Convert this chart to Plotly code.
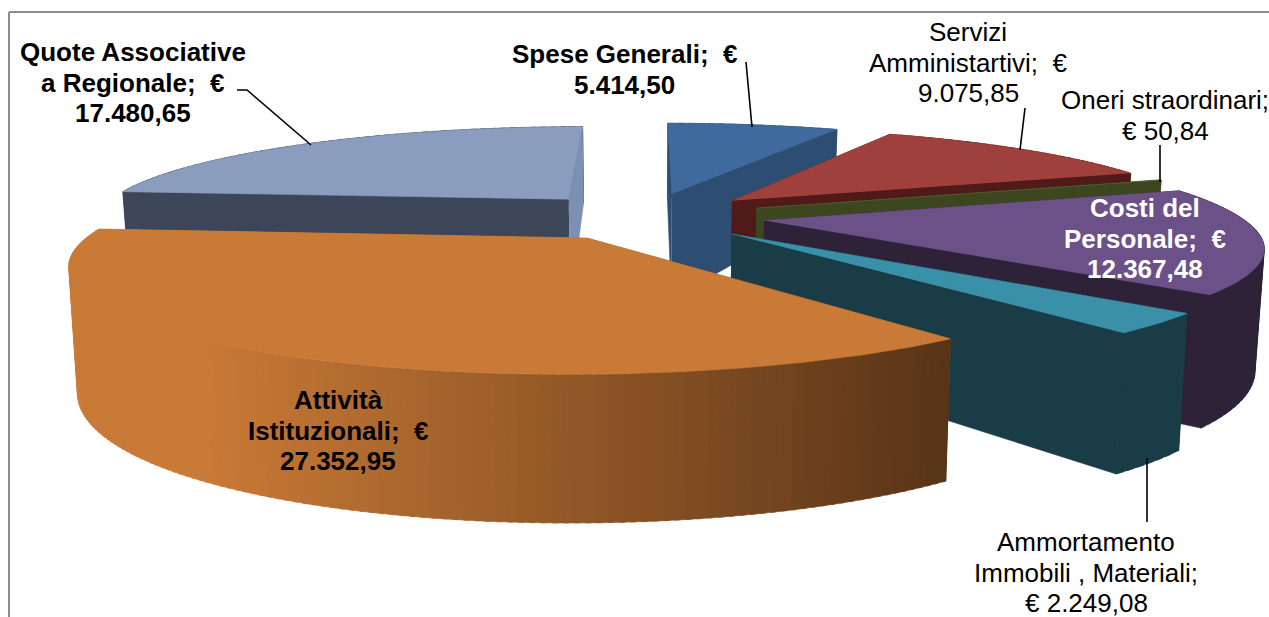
import numpy as np
import plotly.graph_objects as go

# slices in clockwise order, starting from the left edge of the first one
categories = ["Quote Associative a Regionale", "Spese Generali", "Servizi Amministartivi",
              "Oneri straordinari", "Costi del Personale", "Ammortamento Immobili , Materiali",
              "Attività Istituzionali"]
values = [17480.65, 5414.50, 9075.85, 50.84, 12367.48, 2249.08, 27352.95]
value_labels = ["17.480,65", "5.414,50", "9.075,85", "50,84", "12.367,48", "2.249,08", "27.352,95"]
wrapped_names = ["Quote Associative<br>a Regionale;  €<br>", "Spese Generali;  €<br>",
                 "Servizi<br>Amministartivi;  €<br>", "Oneri straordinari;<br>€ ",
                 "Costi del<br>Personale;  €<br>", "Ammortamento<br>Immobili , Materiali;<br>€ ",
                 "Attività<br>Istituzionali;  €<br>"]

top_colors = ["#8A9DBF", "#3E6A9E", "#A0403C", "#5A6E2E", "#6C5088", "#3A90A8", "#C97A36"]
wall_colors = ["#3D4658", "#2D4D72", "#4F1A17", "#3C4720", "#2E2238", "#1A3C46", "#8A5529"]
back_colors = ["#7A90B5", "#2D4D72", "#4F1A17", "#3C4720", "#2E2238", "#1A3C46", "#C97A36"]

# label centre x, y of first line, bold, colour
label_x = [133, 624, 968, 1165, 1145, 1086, 338]
label_y = [52, 54, 32, 100, 208, 542, 400]
label_bold = [True, True, False, False, True, False, True]
label_col = ["#000000", "#000000", "#000000", "#000000", "#FFFFFF", "#000000", "#000000"]
LINE_GAP = 30.5

leaders = [[(237, 90), (247, 90), (311, 145)], [(746, 62), (752, 127)], [(1025, 108), (1020, 150)],
           [(1160, 145), (1160, 182)], [(1147, 458), (1147, 522)]]

# pie projection
START = 275
EXPLODE = 0.25
CX, CY, A, B, K = 646, 216, 476, 95, 0.22
H0, H1, BOTTOM = 112, 30, 0.985


def project(u, v, bottom=False):
    s = 1 / (1 - K * v)
    x = CX + A * u * s
    y = CY + B * v * s
    if bottom:
        x = CX + (x - CX) * BOTTOM
        y = y + H0 + H1 * v
    return x, y


def poly(fig, xs, ys, color):
    fig.add_trace(go.Scatter(x=list(xs), y=list(ys), mode="lines", fill="toself", fillcolor=color,
                             line=dict(color=color, width=0.6), hoverinfo="skip", showlegend=False))


def mix(c1, c2, t):
    a = [int(c1[i:i + 2], 16) for i in (1, 3, 5)]
    b = [int(c2[i:i + 2], 16) for i in (1, 3, 5)]
    return "rgb(%d,%d,%d)" % tuple(a[i] + (b[i] - a[i]) * t for i in range(3))


def wall(fig, tx, ty, bx, by, color):
    # one quad per trace, a band as one polygon folds over itself at the silhouette
    # quads overlap by a few points so the seams stay closed
    n = len(tx)
    for j in range(0, n - 1, 3):
        k = min(j + 5, n - 1)
        poly(fig, [tx[j], tx[k], bx[k], bx[j]], [ty[j], ty[k], by[k], by[j]], color)


fig = go.Figure()

angle = START
total = sum(values)
for i, val in enumerate(values):
    sweep = val / total * 360
    a1, a2 = angle, angle + sweep
    angle = a2
    mid = np.radians((a1 + a2) / 2)
    u0, v0 = EXPLODE * np.sin(mid), -EXPLODE * np.cos(mid)
    phi = np.radians(np.linspace(a1, a2, max(3, int(sweep * 2))))
    u = u0 + np.sin(phi)
    v = v0 - np.cos(phi)

    ax, ay = project(u0, v0)
    abx, aby = project(u0, v0, True)
    tx, ty = project(u, v)
    bx, by = project(u, v, True)

    # back slices: wall under the radial faces
    if v0 < 0:
        wall(fig, tx, ty, bx, by, wall_colors[i])

    poly(fig, [ax, tx[0], bx[0], abx], [ay, ty[0], by[0], aby], wall_colors[i])
    poly(fig, [ax, tx[-1], bx[-1], abx], [ay, ty[-1], by[-1], aby], back_colors[i])

    if i == len(values) - 1:
        # big slice gets a gradient, strips overlap so no seams show
        for j in range(len(phi) - 1, 0, -2):
            t = np.clip((tx[j] - 200) / 750, 0, 1)
            k = max(j - 3, 0)
            poly(fig, [tx[j], tx[k], bx[k], bx[j]], [ty[j], ty[k], by[k], by[j]],
                 mix("#C97A36", "#583418", t))
    elif v0 >= 0:
        wall(fig, tx, ty, bx, by, wall_colors[i])

    poly(fig, [ax] + list(tx), [ay] + list(ty), top_colors[i])

for line in leaders:
    fig.add_trace(go.Scatter(x=[p[0] for p in line], y=[p[1] for p in line], mode="lines",
                             line=dict(color="black", width=1.6), hoverinfo="skip", showlegend=False))

for i in range(len(categories)):
    text = wrapped_names[i] + value_labels[i]
    for n, part in enumerate(text.split("<br>")):
        if label_bold[i]:
            part = "<b>" + part + "</b>"
        fig.add_annotation(x=label_x[i], y=label_y[i] + n * LINE_GAP, text=part, showarrow=False,
                           font=dict(family="Liberation Sans", size=26, color=label_col[i]))

# chart frame, only top and left fit inside the crop
fig.add_shape(type="line", x0=9, y0=12, x1=1269, y1=12, line=dict(color="#8C8C8C", width=2))
fig.add_shape(type="line", x0=9, y0=12, x1=9, y1=617, line=dict(color="#8C8C8C", width=2))

fig.update_xaxes(visible=False, range=[0, 1269], fixedrange=True)
fig.update_yaxes(visible=False, range=[617, 0], fixedrange=True)
fig.update_layout(width=1269, height=617, margin=dict(l=0, r=0, t=0, b=0),
                  plot_bgcolor="white", paper_bgcolor="white", showlegend=False)

fig.write_html("out.html", config={"displayModeBar": False},
               post_script="document.body.style.margin='0';")
